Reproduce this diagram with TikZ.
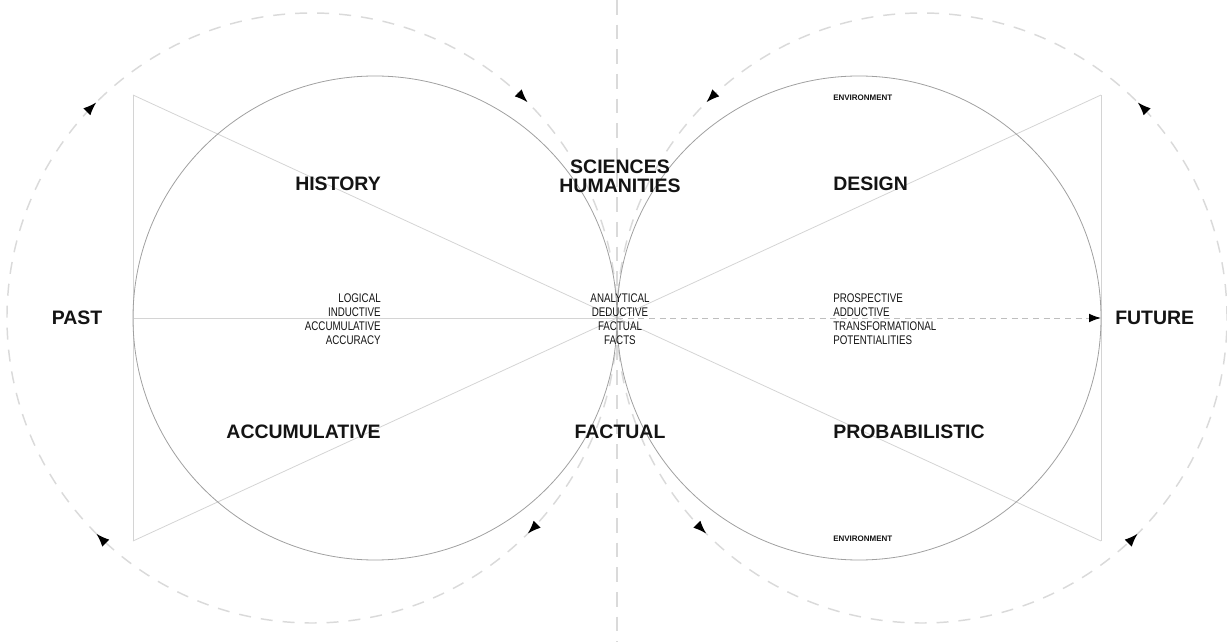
\documentclass[tikz,border=0pt]{standalone}
\usepackage{fontspec}
\setmainfont{Liberation Sans}
\newfontfamily\narrowfont[FakeStretch=0.78]{Liberation Sans}
\usepackage{tikz}
\usetikzlibrary{arrows.meta,decorations.markings}
\usepackage{xcolor}
\definecolor{dgring}{RGB}{160,160,160}
\definecolor{dgray}{RGB}{212,212,212}
\definecolor{dgorbit}{RGB}{218,218,218}
\definecolor{dgaxis}{RGB}{190,190,190}
\definecolor{dgtext}{RGB}{20,20,20}
\tikzstyle{ring} = [draw=dgring, line width=0.6pt]
\tikzstyle{ray} = [draw=dgray, line width=0.6pt]
\tikzstyle{orbit} = [draw=dgorbit, line width=1.1pt, dash pattern=on 9pt off 7.5pt]
\tikzstyle{divider} = [draw=dgorbit, line width=1.5pt, dash pattern=on 11pt off 7.5pt]
\tikzstyle{cwmarks} = [postaction={decorate, decoration={markings,
  mark=at position 0.125 with {\arrowreversed[black]{Latex[length=10pt,width=7.5pt]}},
  mark=at position 0.375 with {\arrowreversed[black]{Latex[length=10pt,width=7.5pt]}},
  mark=at position 0.625 with {\arrowreversed[black]{Latex[length=10pt,width=7.5pt]}},
  mark=at position 0.875 with {\arrowreversed[black]{Latex[length=10pt,width=7.5pt]}}}}]
\tikzstyle{ccwmarks} = [postaction={decorate, decoration={markings,
  mark=at position 0.125 with {\arrow[black]{Latex[length=10pt,width=7.5pt]}},
  mark=at position 0.375 with {\arrow[black]{Latex[length=10pt,width=7.5pt]}},
  mark=at position 0.625 with {\arrow[black]{Latex[length=10pt,width=7.5pt]}},
  mark=at position 0.875 with {\arrow[black]{Latex[length=10pt,width=7.5pt]}}}}]
\tikzstyle{bigword} = [font=\fontsize{14.6}{14.3}\selectfont\bfseries, text=dgtext, inner sep=0pt, align=center]
\tikzstyle{smallword} = [font=\fontsize{9.4}{10.5}\selectfont\narrowfont, text=dgtext, inner sep=0pt]
\tikzstyle{tinyword} = [font=\fontsize{6}{7}\selectfont\bfseries, text=dgtext, inner sep=0pt]

\begin{document}
\begin{tikzpicture}[x=0.75pt, y=0.75pt]
\useasboundingbox (-617,-324) rectangle (610,318);
% Centres and corners
\coordinate (o) at (0,0);
\coordinate (lc) at (-242,0);
\coordinate (rc) at (242,0);
\coordinate (lorb) at (-305,0);
\coordinate (rorb) at (305,0);
\coordinate (ltop) at (-484,223);
\coordinate (lbot) at (-484,-223);
\coordinate (rtop) at (484,223);
\coordinate (rbot) at (484,-223);
\coordinate (lmid) at (-484,0);
\coordinate (rmid) at (484,0);
\coordinate (vtop) at (0,318);
\coordinate (vbot) at (0,-324);

% Orbits
\draw[divider] (vtop) -- (vbot);
\draw[orbit, cwmarks] (lorb) circle[radius=305];
\draw[orbit, ccwmarks] (rorb) circle[radius=305];

% Triangles
\draw[ray] (ltop) -- (lbot);
\draw[ray] (rtop) -- (rbot);
\draw[ray] (ltop) -- (o);
\draw[ray] (lbot) -- (o);
\draw[ray] (rtop) -- (o);
\draw[ray] (rbot) -- (o);
\draw[ray] (lmid) -- (o);
\draw[draw=dgaxis, line width=0.7pt, dash pattern=on 4.5pt off 3.5pt, -{Latex[black,length=9pt,width=6.5pt]}] (o) -- (rmid);

% Circles
\draw[ring] (lc) circle[radius=242];
\draw[ring] (rc) circle[radius=242];

% Labels
\node (past) [bigword] at (-540,0) {PAST};
\node (future) [bigword, anchor=west] at (498,0) {FUTURE};
\node (history) [bigword, anchor=east] at (-236,134) {HISTORY};
\node (accum) [bigword, anchor=east] at (-236,-114) {ACCUMULATIVE};
\node (design) [bigword, anchor=west] at (216,134) {DESIGN};
\node (prob) [bigword, anchor=west] at (216,-114) {PROBABILISTIC};
\node (sciences) [bigword] at (3,142) {SCIENCES\\HUMANITIES};
\node (factual) [bigword] at (3,-114) {FACTUAL};
\node (pastlist) [smallword, anchor=east, align=right] at (-236,-1) {LOGICAL\\INDUCTIVE\\ACCUMULATIVE\\ACCURACY};
\node (midlist) [smallword, align=center] at (3,-1) {ANALYTICAL\\DEDUCTIVE\\FACTUAL\\FACTS};
\node (futlist) [smallword, anchor=west, align=left] at (216,-1) {PROSPECTIVE\\ADDUCTIVE\\TRANSFORMATIONAL\\POTENTIALITIES};
\node (envtop) [tinyword, anchor=west] at (216,220) {ENVIRONMENT};
\node (envbot) [tinyword, anchor=west] at (216,-221) {ENVIRONMENT};
\end{tikzpicture}
\end{document}
